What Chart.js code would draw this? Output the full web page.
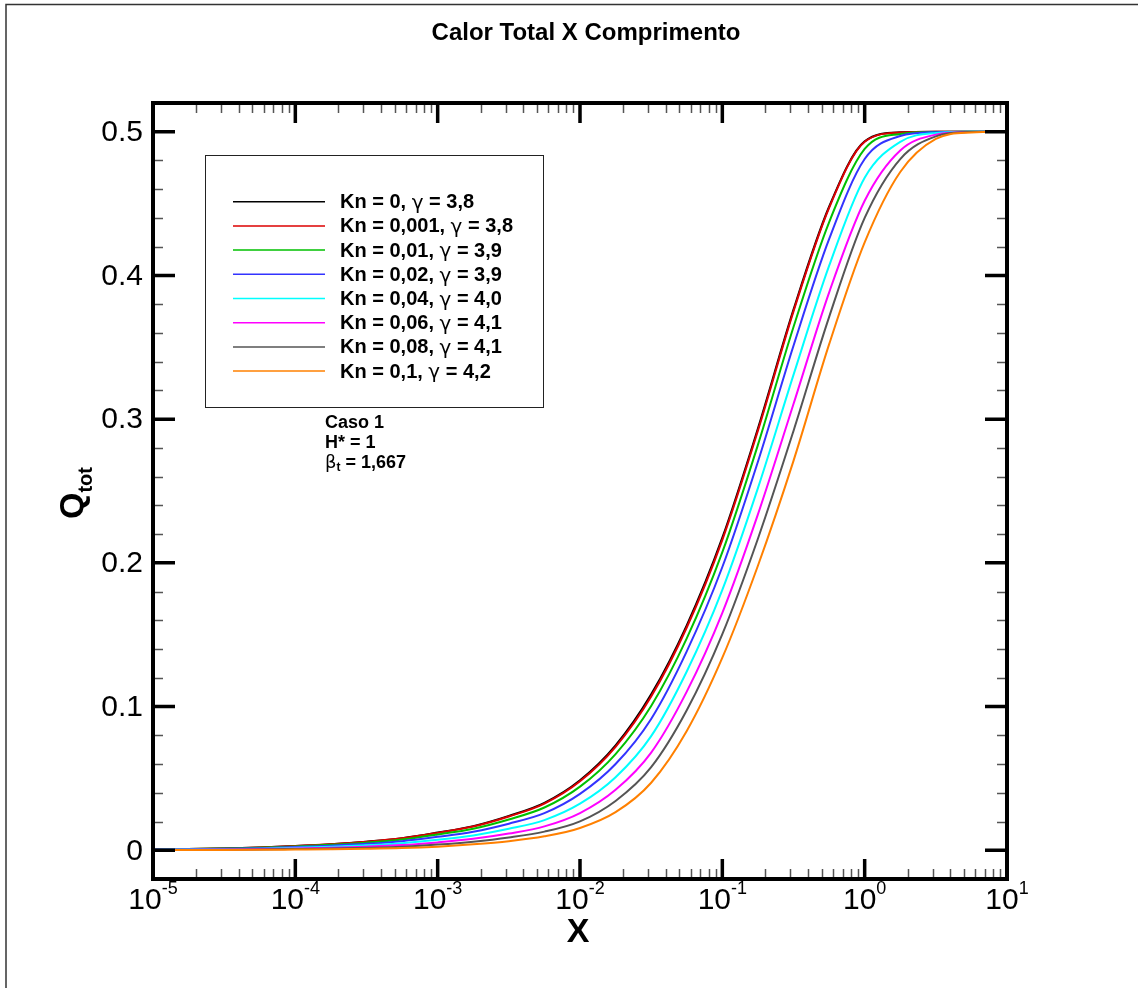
<!DOCTYPE html>
<html>
<head>
<meta charset="utf-8">
<script src="https://cdn.jsdelivr.net/npm/chart.js@4.4.1/dist/chart.umd.min.js"></script>
<style>
  body { margin: 0; background: #fff; }
  #wrap { position: relative; width: 1138px; height: 988px; }
</style>
</head>
<body>
<div id="wrap"><canvas id="chart" width="1138" height="988"></canvas></div>
<script>
// X (comprimento) - quarter decade steps from 1e-5 to 10
const xVals = [1e-5, 1.778e-5, 3.162e-5, 5.623e-5, 1e-4, 1.778e-4, 3.162e-4, 5.623e-4,
               1e-3, 1.778e-3, 3.162e-3, 5.623e-3, 0.01, 0.01778, 0.03162, 0.05623,
               0.1, 0.1778, 0.3162, 0.5623, 1, 1.778, 3.162, 5.623, 10];

// Q_tot, one array per case
const qKn0    = [0.0007, 0.0009, 0.0013, 0.0019, 0.0029, 0.0042, 0.006, 0.0084, 0.0123, 0.0168, 0.0239, 0.033, 0.0487, 0.073, 0.1085, 0.1565, 0.2175, 0.2935, 0.3762, 0.4478, 0.4933, 0.4996, 0.5, 0.5, 0.5];
const qKn0001 = [0.0007, 0.0009, 0.0013, 0.0019, 0.0029, 0.0042, 0.0059, 0.0083, 0.0121, 0.0165, 0.0235, 0.0325, 0.048, 0.072, 0.107, 0.155, 0.216, 0.292, 0.375, 0.447, 0.493, 0.4995, 0.5, 0.5, 0.5];
const qKn001  = [0.00063, 0.00081, 0.00117, 0.00171, 0.00261, 0.00378, 0.00531, 0.00748, 0.01095, 0.01501, 0.02144, 0.02974, 0.04426, 0.06694, 0.1004, 0.1474, 0.2074, 0.2821, 0.3641, 0.437, 0.488, 0.4985, 0.4999, 0.5, 0.5];
const qKn002  = [0.00053, 0.00068, 0.00098, 0.00144, 0.0022, 0.00319, 0.00448, 0.00633, 0.00932, 0.0129, 0.0185, 0.0258, 0.0392, 0.06, 0.0914, 0.1384, 0.1971, 0.2704, 0.3511, 0.4252, 0.481, 0.497, 0.4997, 0.5, 0.5];
const qKn004  = [0.0004, 0.00053, 0.00075, 0.0011, 0.0017, 0.00245, 0.00345, 0.0049, 0.0073, 0.0103, 0.0149, 0.021, 0.0324, 0.0508, 0.0794, 0.1244, 0.1812, 0.252, 0.3308, 0.4066, 0.468, 0.493, 0.4992, 0.5, 0.5];
const qKn006  = [0.00029, 0.00038, 0.00054, 0.0008, 0.00124, 0.00178, 0.00252, 0.00361, 0.00548, 0.00794, 0.01163, 0.01663, 0.0259, 0.0421, 0.068, 0.1104, 0.1652, 0.2337, 0.3105, 0.3881, 0.452, 0.487, 0.498, 0.4999, 0.5];
const qKn008  = [0.00019, 0.00026, 0.00036, 0.00054, 0.00086, 0.00122, 0.00173, 0.00252, 0.00394, 0.00596, 0.00888, 0.01295, 0.0201, 0.0343, 0.0578, 0.0974, 0.1504, 0.2168, 0.2918, 0.371, 0.44, 0.481, 0.4968, 0.4998, 0.5];
const qKn01   = [0.0001, 0.00015, 0.0002, 0.0003, 0.0005, 0.0007, 0.001, 0.0015, 0.0025, 0.0041, 0.0063, 0.0097, 0.0155, 0.0265, 0.047, 0.083, 0.134, 0.198, 0.271, 0.352, 0.423, 0.472, 0.495, 0.4995, 0.5];

const knLabels = ["0", "0,001", "0,01", "0,02", "0,04", "0,06", "0,08", "0,1"];
const gammaLabels = ["3,8", "3,8", "3,9", "3,9", "4,0", "4,1", "4,1", "4,2"];
const series = [qKn0, qKn0001, qKn001, qKn002, qKn004, qKn006, qKn008, qKn01];
const colors = ["#000000", "#dd0000", "#00c000", "#3333ff", "#00ffff", "#ff00ff", "#555555", "#ff8000"];

const yMajor = [0, 0.1, 0.2, 0.3, 0.4, 0.5];
const yTickLabels = ["0", "0.1", "0.2", "0.3", "0.4", "0.5"];
const xDecades = [-5, -4, -3, -2, -1, 0, 1];

const FONT = "'Liberation Sans', Arial, Helvetica, sans-serif";
const SYM = "'DejaVu Sans', sans-serif";

// draws a list of [text, font, dy] pieces left to right
function drawPieces(ctx, pieces, x, y) {
    pieces.forEach(p => {
        ctx.font = p[1];
        ctx.fillText(p[0], x, y + (p[2] || 0));
        x += ctx.measureText(p[0]).width;
    });
}

const decor = {
    id: "decor",
    beforeDraw(chart) {
        const ctx = chart.ctx;
        ctx.save();
        ctx.fillStyle = "#fff";
        ctx.fillRect(0, 0, chart.width, chart.height);
        // outer frame (top + left only)
        ctx.strokeStyle = "#333";
        ctx.lineWidth = 1.5;
        ctx.beginPath();
        ctx.moveTo(6, chart.height);
        ctx.lineTo(6, 4.5);
        ctx.lineTo(chart.width, 4.5);
        ctx.stroke();
        ctx.restore();
    },
    afterDatasetsDraw(chart) {
        const ctx = chart.ctx;
        const a = chart.chartArea;
        const xs = chart.scales.x, ys = chart.scales.y;
        ctx.save();
        ctx.lineCap = "butt";
        // minor x ticks
        ctx.strokeStyle = "#555";
        ctx.lineWidth = 1.5;
        for (let e = -5; e < 1; e++) {
            for (let m = 2; m <= 9; m++) {
                const px = Math.round(xs.getPixelForValue(m * Math.pow(10, e))) + 0.5;
                ctx.beginPath();
                ctx.moveTo(px, a.bottom); ctx.lineTo(px, a.bottom - 10);
                ctx.moveTo(px, a.top); ctx.lineTo(px, a.top + 10);
                ctx.stroke();
            }
        }
        // minor y ticks
        for (let k = -1; k <= 26; k++) {
            if (k % 5 === 0) continue;
            const py = Math.round(ys.getPixelForValue(k * 0.02)) + 0.5;
            if (py <= a.top + 2 || py >= a.bottom - 2) continue;
            ctx.beginPath();
            ctx.moveTo(a.left, py); ctx.lineTo(a.left + 10, py);
            ctx.moveTo(a.right, py); ctx.lineTo(a.right - 10, py);
            ctx.stroke();
        }
        // major ticks
        ctx.strokeStyle = "#000";
        ctx.lineWidth = 3.5;
        xDecades.forEach(e => {
            const px = xs.getPixelForValue(Math.pow(10, e));
            ctx.beginPath();
            ctx.moveTo(px, a.bottom); ctx.lineTo(px, a.bottom - 20);
            ctx.moveTo(px, a.top); ctx.lineTo(px, a.top + 20);
            ctx.stroke();
        });
        yMajor.forEach(v => {
            const py = ys.getPixelForValue(v);
            ctx.beginPath();
            ctx.moveTo(a.left, py); ctx.lineTo(a.left + 22, py);
            ctx.moveTo(a.right, py); ctx.lineTo(a.right - 22, py);
            ctx.stroke();
        });
        // axes box
        ctx.lineWidth = 4;
        ctx.strokeRect(a.left, a.top, a.right - a.left, a.bottom - a.top);
        ctx.restore();
    },
    afterDraw(chart) {
        const ctx = chart.ctx;
        const a = chart.chartArea;
        const xs = chart.scales.x, ys = chart.scales.y;
        ctx.save();
        ctx.fillStyle = "#000";
        // title
        ctx.font = "bold 24px " + FONT;
        ctx.textAlign = "center";
        ctx.textBaseline = "middle";
        ctx.fillText("Calor Total X Comprimento", 586, 33);

        // y tick labels
        ctx.font = "30px " + FONT;
        ctx.textAlign = "right";
        yMajor.forEach((v, i) => {
            ctx.fillText(yTickLabels[i], a.left - 10, ys.getPixelForValue(v) + 1);
        });

        // x tick labels 10^e
        ctx.textAlign = "left";
        xDecades.forEach(e => {
            const px = xs.getPixelForValue(Math.pow(10, e));
            const sup = (e < 0 ? "-" : "") + Math.abs(e);
            ctx.font = "30px " + FONT;
            const wBase = ctx.measureText("10").width;
            ctx.font = "18px " + FONT;
            const wSup = ctx.measureText(sup).width;
            drawPieces(ctx, [["10", "30px " + FONT, 0], [sup, "18px " + FONT, -12]], px - (wBase + wSup) / 2, 901);
        });

        // axis titles
        ctx.font = "bold 34px " + FONT;
        ctx.textAlign = "center";
        ctx.fillText("X", (a.left + a.right) / 2 - 2, 933);

        ctx.save();
        ctx.translate(74, 493);
        ctx.rotate(-Math.PI / 2);
        ctx.font = "bold 34px " + FONT;
        const wQ = ctx.measureText("Q").width;
        ctx.font = "bold 20px " + FONT;
        const wT = ctx.measureText("tot").width;
        ctx.textAlign = "left";
        drawPieces(ctx, [["Q", "bold 34px " + FONT, 0], ["tot", "bold 20px " + FONT, 12]], -(wQ + wT) / 2, 0);
        ctx.restore();

        // legend box
        ctx.strokeStyle = "#222";
        ctx.lineWidth = 1;
        ctx.strokeRect(205.5, 155.5, 338, 252);
        ctx.textAlign = "left";
        ctx.textBaseline = "middle";
        chart.data.datasets.forEach((ds, i) => {
            const y = 201.7 + i * 24.2;
            ctx.strokeStyle = ds.borderColor;
            ctx.lineWidth = 1.5;
            ctx.beginPath();
            ctx.moveTo(233, y); ctx.lineTo(325, y);
            ctx.stroke();
            ctx.fillStyle = "#000";
            drawPieces(ctx, [
                ["Kn = " + knLabels[i] + ", ", "bold 20px " + FONT, 1],
                ["γ", "20px " + SYM, 2],
                [" = " + gammaLabels[i], "bold 20px " + FONT, 1]
            ], 340, y);
        });

        // case annotation
        const bf = "bold 18px " + FONT;
        drawPieces(ctx, [["Caso 1", bf, 0]], 325, 423);
        drawPieces(ctx, [["H* = 1", bf, 0]], 325, 443);
        drawPieces(ctx, [["β", "18px " + SYM, 0], ["t", "bold 12px " + FONT, 5], [" = 1,667", bf, 0]], 325, 463);
        ctx.restore();
    }
};

const datasets = series.map((vals, i) => ({
    label: "Kn = " + knLabels[i] + ", γ = " + gammaLabels[i],
    data: xVals.map((x, j) => ({ x: x, y: vals[j] })),
    borderColor: colors[i],
    backgroundColor: colors[i],
    borderWidth: 2,
    pointRadius: 0,
    fill: false,
    cubicInterpolationMode: "monotone",
    order: series.length - i
}));

new Chart(document.getElementById("chart"), {
    type: "line",
    data: { datasets: datasets },
    options: {
        responsive: false,
        animation: false,
        events: [],
        layout: { padding: { left: 153, top: 103, right: 1138 - 1007, bottom: 988 - 879 } },
        plugins: { legend: { display: false }, title: { display: false }, tooltip: { enabled: false } },
        scales: {
            x: { type: "logarithmic", min: 1e-5, max: 10, display: false },
            y: { type: "linear", min: -0.02, max: 0.52, display: false }
        }
    },
    plugins: [decor]
});
</script>
</body>
</html>
